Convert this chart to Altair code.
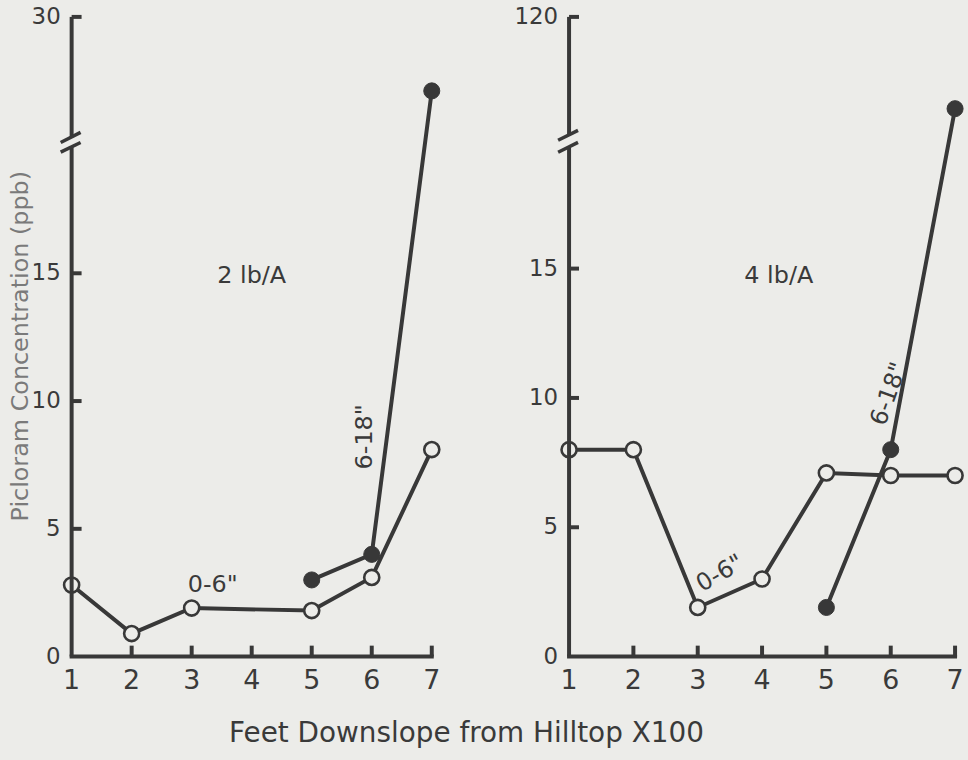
import altair as alt
import pandas as pd

# ---- data ----
# 2 lb/A panel
l_shallow_x = [1, 2, 3, 5, 6, 7]
l_shallow_y = [2.8, 0.9, 1.9, 1.8, 3.1, 8.1]
l_deep_x = [5, 6, 7]
l_deep_y = [3.0, 4.0, 24.0]
# 4 lb/A panel
r_shallow_x = [1, 2, 3, 4, 5, 6, 7]
r_shallow_y = [8.0, 8.0, 1.9, 3.0, 7.1, 7.0, 7.0]
r_deep_x = [5, 6, 7]
r_deep_y = [1.9, 8.0, 45.0]

x_ticks = [1, 2, 3, 4, 5, 6, 7]
l_y_ticks = [0, 5, 10, 15, 30]
r_y_ticks = [0, 5, 10, 15, 120]

INK = "#383838"
BG = "#ecece9"
TXT = "#3a3a3a"
FONT = "DejaVu Sans"
H = 643


def panel(sx, sy, dx_, dy_, yticks, ydomain, yrange, width, brk, rate, rate_pos,
          shallow_pos, shallow_angle, deep_pos, deep_angle, ytitle):
    xs = alt.Scale(domain=[1, 7], nice=False, zero=False)
    ys = alt.Scale(domain=ydomain, range=yrange, nice=False, zero=False)
    df = pd.DataFrame({
        "x": list(sx) + list(dx_),
        "y": list(sy) + list(dy_),
        "s": ["0-6"] * len(sx) + ["6-18"] * len(dx_),
    })
    X = lambda f: alt.X(f, scale=xs, axis=None)
    Y = lambda f: alt.Y(f, scale=ys, axis=None)

    lines = alt.Chart(df).mark_line(color=INK, strokeWidth=4).encode(
        x=X("x:Q"), y=Y("y:Q"), detail="s:N",
    )
    open_pts = alt.Chart(df[df.s == "0-6"]).mark_point(
        shape="circle", filled=True, fill=BG, stroke=INK, strokeWidth=2.6,
        size=230, opacity=1
    ).encode(x=X("x:Q"), y=Y("y:Q"))
    full_pts = alt.Chart(df[df.s == "6-18"]).mark_point(
        shape="circle", filled=True, fill=INK, stroke=INK, strokeWidth=1,
        size=260, opacity=1
    ).encode(x=X("x:Q"), y=Y("y:Q"))

    one = alt.Data(values=[{}])
    yline_lo = alt.Chart(one).mark_rule(color=INK, strokeWidth=4).encode(
        x=alt.value(0),
        y=alt.YDatum(ydomain[0], scale=ys, axis=None),
        y2=alt.Y2Datum(brk["gap"][0]),
    )
    yline_hi = alt.Chart(one).mark_rule(color=INK, strokeWidth=4).encode(
        x=alt.value(0),
        y=alt.YDatum(brk["gap"][1], scale=ys, axis=None),
        y2=alt.Y2Datum(ydomain[-1]),
    )
    xline = alt.Chart(one).mark_rule(color=INK, strokeWidth=4, strokeCap="square").encode(
        x=alt.XDatum(1, scale=xs, axis=None),
        x2=alt.X2Datum(7),
        y=alt.YDatum(0, scale=ys, axis=None),
    )
    brk_lines = []
    for (a, b) in brk["lines"]:
        brk_lines.append(
            alt.Chart(one).mark_rule(color=INK, strokeWidth=3.5).encode(
                x=alt.value(-11), x2=alt.value(9),
                y=alt.YDatum(a, scale=ys, axis=None), y2=alt.Y2Datum(b),
            )
        )
    ytk = alt.Chart(pd.DataFrame({"v": yticks[1:]})).mark_rule(
        color=INK, strokeWidth=4).encode(
        y=Y("v:Q"), x=alt.value(0), x2=alt.value(10),
    )
    xtk = alt.Chart(pd.DataFrame({"v": x_ticks[1:]})).mark_rule(
        color=INK, strokeWidth=4).encode(
        x=X("v:Q"), y=alt.YDatum(0, scale=ys, axis=None), y2=alt.value(H - 11),
    )
    ylab = alt.Chart(pd.DataFrame({"v": yticks})).mark_text(
        font=FONT, fontSize=23, color=TXT, align="right", baseline="middle"
    ).encode(y=Y("v:Q"), x=alt.value(-11), text=alt.Text("v:Q", format="d"))
    xlab = alt.Chart(pd.DataFrame({"v": x_ticks})).mark_text(
        font=FONT, fontSize=27, color=TXT, align="center", baseline="top"
    ).encode(x=X("v:Q"), y=alt.value(H + 12), text=alt.Text("v:Q", format="d"))

    def label(text, pos, angle, size):
        return alt.Chart(one).mark_text(
            text=text, font=FONT, fontSize=size, color=TXT, angle=angle,
            align="center", baseline="middle"
        ).encode(
            x=alt.XDatum(pos[0], scale=xs, axis=None),
            y=alt.YDatum(pos[1], scale=ys, axis=None),
        )

    layers = [lines, open_pts, full_pts, yline_lo, yline_hi, xline,
              *brk_lines, ytk, xtk, ylab, xlab,
              label(rate, rate_pos, 0, 24),
              label('0-6"', shallow_pos, shallow_angle, 24),
              label('6-18"', deep_pos, deep_angle, 24)]
    if ytitle:
        layers.append(
            alt.Chart(one).mark_text(
                text=ytitle, font=FONT, fontSize=24, color="#7a7a7a", angle=270,
                align="center", baseline="middle"
            ).encode(x=alt.value(-51), y=alt.value(331))
        )
    return alt.layer(*layers).properties(width=width, height=H)


left = panel(
    l_shallow_x, l_shallow_y, l_deep_x, l_deep_y, l_y_ticks,
    [0, 20.4, 30], [H, 119, 0], 362,
    {"gap": [19.93, 20.32], "lines": [(19.74, 20.12), (20.12, 20.64)]},
    "2 lb/A", (4.0, 14.9), (3.35, 2.8), 0, (5.88, 8.6), 270,
    "Picloram Concentration (ppb)",
)
right = panel(
    r_shallow_x, r_shallow_y, r_deep_x, r_deep_y, r_y_ticks,
    [0, 20, 120], [H, 123, 0], 388,
    {"gap": [19.69, 23.25], "lines": [(19.5, 19.88), (19.96, 27.3)]},
    "4 lb/A", (4.26, 14.7), (3.35, 3.2), 330, (5.98, 10.15), 290,
    None,
)

chart = alt.hconcat(
    left, right, spacing=138, bounds="flush",
    title=alt.Title("Feet Downslope from Hilltop X100", orient="bottom",
                    anchor="middle", fontSize=28, font=FONT, color=TXT,
                    fontWeight="normal", dx=-22, offset=26),
).properties(
    padding={"left": 9, "top": 4, "right": 0, "bottom": 20},
    background=BG,
).configure_view(stroke=None)

chart.save("out.html", embed_options={"renderer": "svg", "actions": False})
